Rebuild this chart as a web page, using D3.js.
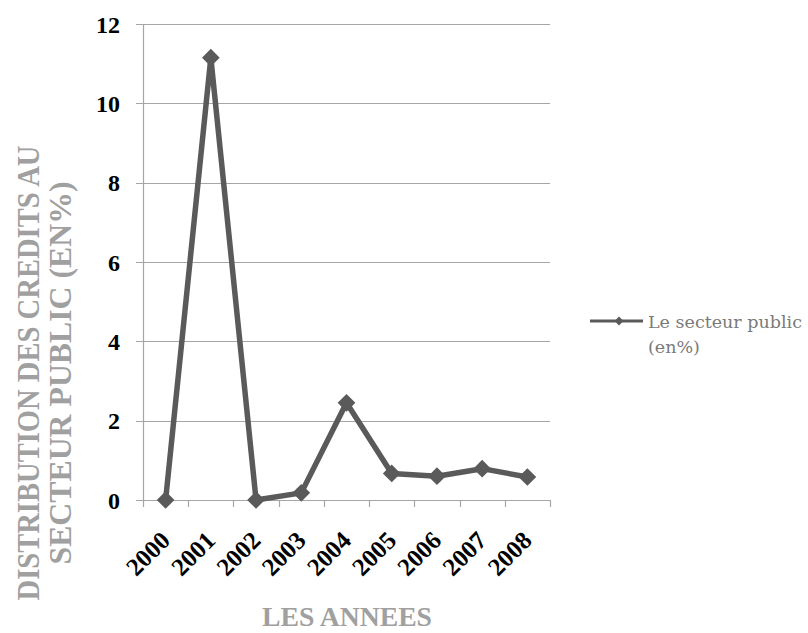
<!DOCTYPE html>
<html>
<head>
<meta charset="utf-8">
<script src="https://cdn.jsdelivr.net/npm/d3@7"></script>
<style>
  body { margin: 0; background: #fff; overflow: hidden; }
</style>
</head>
<body>
<div id="chart"></div>
<script>
var years = ['2000', '2001', '2002', '2003', '2004', '2005', '2006', '2007', '2008'];
var publicSector = [0, 11.15, 0, 0.18, 2.45, 0.67, 0.6, 0.79, 0.58];
var yTicks = [0, 2, 4, 6, 8, 10, 12];
var seriesName = ['Le secteur public', '(en%)'];

var width = 808, height = 633;
var plot = { left: 143, right: 550, top: 24, bottom: 500 };
var lineColor = '#5a5a5a';
var serif = '"Liberation Serif", "Times New Roman", serif';

var svg = d3.select('#chart')
    .append('svg')
    .attr('width', width)
    .attr('height', height);

var x = d3.scaleBand()
    .domain(years)
    .range([plot.left, plot.right]);

var y = d3.scaleLinear()
    .domain([0, 12])
    .range([plot.bottom, plot.top]);

/* gridlines */
svg.append('g')
    .selectAll('line')
    .data(yTicks)
    .enter().append('line')
    .attr('x1', plot.left - 7)
    .attr('x2', plot.right)
    .attr('y1', function (d) { return Math.round(y(d)) + 0.5; })
    .attr('y2', function (d) { return Math.round(y(d)) + 0.5; })
    .attr('stroke', '#a6a6a6')
    .attr('stroke-width', 1.2);

/* left axis line */
svg.append('line')
    .attr('x1', plot.left + 0.5).attr('x2', plot.left + 0.5)
    .attr('y1', plot.top).attr('y2', plot.bottom)
    .attr('stroke', '#a6a6a6')
    .attr('stroke-width', 1.2);

/* x tick marks at band edges */
var edges = years.map(function (d) { return x(d); }).concat([plot.right]);
svg.append('g')
    .selectAll('line')
    .data(edges)
    .enter().append('line')
    .attr('x1', function (d) { return Math.round(d) + 0.5; })
    .attr('x2', function (d) { return Math.round(d) + 0.5; })
    .attr('y1', plot.bottom)
    .attr('y2', plot.bottom + 7)
    .attr('stroke', '#a6a6a6')
    .attr('stroke-width', 1.2);

/* y tick labels */
svg.append('g')
    .selectAll('text')
    .data(yTicks)
    .enter().append('text')
    .attr('x', 120)
    .attr('y', function (d) { return y(d) + 8.5; })
    .attr('text-anchor', 'end')
    .attr('font-family', serif)
    .attr('font-size', 24)
    .attr('font-weight', 'bold')
    .attr('fill', '#000')
    .text(function (d) { return d; });

/* x tick labels, rotated */
svg.append('g')
    .selectAll('text')
    .data(years)
    .enter().append('text')
    .attr('transform', function (d) {
        var cx = x(d) + x.bandwidth() / 2 + 6;
        return 'translate(' + cx + ',542) rotate(-45)';
    })
    .attr('text-anchor', 'end')
    .attr('font-family', serif)
    .attr('font-size', 25)
    .attr('font-weight', 'bold')
    .attr('fill', '#000')
    .text(function (d) { return d; });

/* line + markers */
var line = d3.line()
    .x(function (d, i) { return x(years[i]) + x.bandwidth() / 2; })
    .y(function (d) { return y(d); });

svg.append('path')
    .datum(publicSector)
    .attr('d', line)
    .attr('fill', 'none')
    .attr('stroke', lineColor)
    .attr('stroke-width', 5.5)
    .attr('stroke-linejoin', 'round');

var diamond = d3.symbol().type(d3.symbolDiamond2).size(200);
svg.append('g')
    .selectAll('path')
    .data(publicSector)
    .enter().append('path')
    .attr('d', diamond)
    .attr('transform', function (d, i) {
        return 'translate(' + (x(years[i]) + x.bandwidth() / 2) + ',' + y(d) + ')';
    })
    .attr('fill', lineColor);

/* axis titles */
var yTitle = svg.append('text')
    .attr('transform', 'translate(0,373) rotate(-90)')
    .attr('text-anchor', 'middle')
    .attr('font-family', serif)
    .attr('font-size', 32)
    .attr('font-weight', 'bold')
    .attr('fill', '#a0a0a0');
yTitle.append('tspan').attr('x', 0).attr('y', 39)
    .attr('textLength', 455).attr('lengthAdjust', 'spacingAndGlyphs')
    .text('DISTRIBUTION DES CREDITS AU');
yTitle.append('tspan').attr('x', 0).attr('y', 71)
    .attr('textLength', 383).attr('lengthAdjust', 'spacingAndGlyphs')
    .text('SECTEUR PUBLIC (EN%)');

svg.append('text')
    .attr('x', 347)
    .attr('y', 626)
    .attr('text-anchor', 'middle')
    .attr('font-family', serif)
    .attr('font-size', 28)
    .attr('font-weight', 'bold')
    .attr('fill', '#a0a0a0')
    .attr('textLength', 170)
    .attr('lengthAdjust', 'spacingAndGlyphs')
    .text('LES ANNEES');

/* legend */
var legend = svg.append('g').attr('transform', 'translate(590,321)');
legend.append('line')
    .attr('x1', 0).attr('x2', 53)
    .attr('y1', 0).attr('y2', 0)
    .attr('stroke', lineColor)
    .attr('stroke-width', 3);
legend.append('path')
    .attr('d', d3.symbol().type(d3.symbolDiamond2).size(50))
    .attr('transform', 'translate(29,0)')
    .attr('fill', lineColor);
legend.selectAll('text')
    .data(seriesName)
    .enter().append('text')
    .attr('x', 58)
    .attr('y', function (d, i) { return 7 + i * 25; })
    .attr('font-family', '"DejaVu Serif", serif')
    .attr('font-size', 17.5)
    .attr('fill', '#7a7a7a')
    .text(function (d) { return d; });
</script>
</body>
</html>
